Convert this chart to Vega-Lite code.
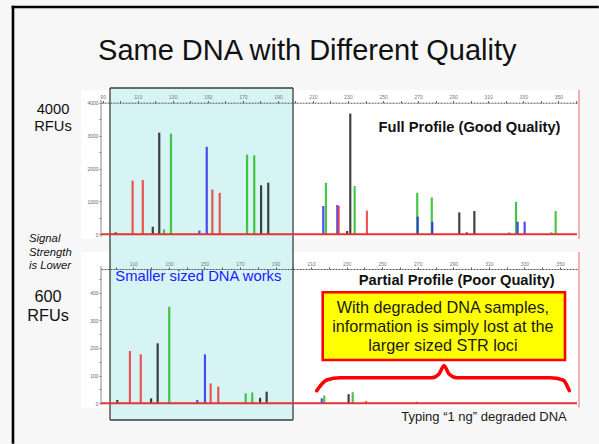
{
  "$schema": "https://vega.github.io/schema/vega-lite/v6.json",
  "background": "#f7f7f7",
  "padding": {"left": 11, "top": 5, "right": 0, "bottom": 0},
  "bounds": "flush",
  "spacing": 0,
  "config": {"view": {"stroke": null}, "font": "Liberation Sans", "text": {"font": "Liberation Sans"}, "axis": {"labelFont": "Liberation Sans", "labelOverlap": false}},
  "resolve": {"scale": {"x": "independent", "y": "independent"}},
  "vconcat": [
    {
      "width": 476,
      "height": 157,
      "layer": [
        {"data": {"values": [{}]}, "mark": {"type": "rule", "color": "#000000", "strokeWidth": 2.6, "strokeCap": "square"},
         "encoding": {"x": {"datum": 38.84, "type": "quantitative"}, "y": {"datum": 6908.8, "type": "quantitative"}, "y2": {"datum": -6328.3}}},
        {"data": {"values": [{}]}, "mark": {"type": "rule", "color": "#000000", "strokeWidth": 2.6, "strokeCap": "square"},
         "encoding": {"x": {"datum": 38.84, "type": "quantitative"}, "x2": {"datum": 372.37}, "y": {"datum": 6908.8, "type": "quantitative"}}},
        {"data": {"values": [{}]}, "mark": {"type": "rect", "fill": "#ffffff"},
         "encoding": {"x": {"datum": 77.65, "type": "quantitative"}, "x2": {"datum": 361.53}, "y": {"datum": 4386, "type": "quantitative"}, "y2": {"datum": -142.9}}},
        {"data": {"values": [{}]}, "mark": {"type": "rect", "fill": "#d7f4f4"},
         "encoding": {"x": {"datum": 94.19, "type": "quantitative"}, "x2": {"datum": 198.62}, "y": {"datum": 4447, "type": "quantitative"}, "y2": {"datum": -325}}},
        {"data": {"values": [{}]}, "mark": {"type": "rule", "color": "#3c3c3c", "strokeWidth": 1.3},
         "encoding": {"x": {"datum": 94.19, "type": "quantitative"}, "y": {"datum": 4447, "type": "quantitative"}, "y2": {"datum": -325}}},
        {"data": {"values": [{}]}, "mark": {"type": "rule", "color": "#3c3c3c", "strokeWidth": 1.3},
         "encoding": {"x": {"datum": 198.62, "type": "quantitative"}, "y": {"datum": 4447, "type": "quantitative"}, "y2": {"datum": -325}}},
        {"data": {"values": [{}]}, "mark": {"type": "rule", "color": "#3c3c3c", "strokeWidth": 1.3},
         "encoding": {"x": {"datum": 94.19, "type": "quantitative"}, "x2": {"datum": 198.62}, "y": {"datum": 4447, "type": "quantitative"}}},
        {"data": {"values": [{}]}, "mark": {"type": "rule", "color": "#8a8a8a", "strokeWidth": 1},
         "encoding": {"x": {"datum": 89.06, "type": "quantitative"}, "y": {"datum": 4080, "type": "quantitative"}, "y2": {"datum": -82}}},
        {"data": {"values": [{}]}, "mark": {"type": "rule", "color": "#f08080", "strokeWidth": 1.2},
         "encoding": {"x": {"datum": 361.81, "type": "quantitative"}, "y": {"datum": 4386, "type": "quantitative"}, "y2": {"datum": -142.9}}},
        {
          "data": {"values": [
            {"bp": 97.4, "rfu": 60, "dye": "black"},
            {"bp": 107.1, "rfu": 1630, "dye": "red"},
            {"bp": 112.9, "rfu": 1650, "dye": "red"},
            {"bp": 118.6, "rfu": 230, "dye": "black"},
            {"bp": 122.3, "rfu": 3090, "dye": "black"},
            {"bp": 125.0, "rfu": 150, "dye": "green"},
            {"bp": 129.0, "rfu": 3060, "dye": "green"},
            {"bp": 145.2, "rfu": 110, "dye": "blue"},
            {"bp": 149.4, "rfu": 2660, "dye": "blue"},
            {"bp": 152.6, "rfu": 1360, "dye": "red"},
            {"bp": 156.8, "rfu": 1260, "dye": "red"},
            {"bp": 172.4, "rfu": 2420, "dye": "green"},
            {"bp": 176.5, "rfu": 2400, "dye": "green"},
            {"bp": 180.4, "rfu": 1490, "dye": "black"},
            {"bp": 184.5, "rfu": 1570, "dye": "black"},
            {"bp": 215.9, "rfu": 860, "dye": "blue"},
            {"bp": 217.4, "rfu": 1565, "dye": "green"},
            {"bp": 223.9, "rfu": 890, "dye": "blue"},
            {"bp": 224.7, "rfu": 860, "dye": "red"},
            {"bp": 229.5, "rfu": 100, "dye": "black"},
            {"bp": 231.3, "rfu": 3670, "dye": "black"},
            {"bp": 233.8, "rfu": 1465, "dye": "green"},
            {"bp": 240.8, "rfu": 717, "dye": "red"},
            {"bp": 269.5, "rfu": 1263, "dye": "green"},
            {"bp": 269.8, "rfu": 535, "dye": "blue"},
            {"bp": 277.8, "rfu": 1120, "dye": "green"},
            {"bp": 278.1, "rfu": 380, "dye": "blue"},
            {"bp": 293.5, "rfu": 667, "dye": "black"},
            {"bp": 297.8, "rfu": 60, "dye": "black"},
            {"bp": 302.1, "rfu": 707, "dye": "black"},
            {"bp": 322.0, "rfu": 60, "dye": "green"},
            {"bp": 325.9, "rfu": 990, "dye": "green"},
            {"bp": 326.8, "rfu": 380, "dye": "blue"},
            {"bp": 330.8, "rfu": 384, "dye": "blue"},
            {"bp": 346.0, "rfu": 60, "dye": "green"},
            {"bp": 348.5, "rfu": 707, "dye": "green"}
          ]},
          "mark": {"type": "rule", "strokeWidth": 2.2, "opacity": 0.8},
          "encoding": {
            "x": {"field": "bp", "type": "quantitative",
                  "scale": {"domain": [89.06, 360.67], "nice": false, "zero": false},
                  "axis": {"orient": "top", "offset": -14.7, "tickCount": 1000,
                           "values": [90,100,110,120,130,140,150,160,170,180,190,200,210,220,230,240,250,260,270,280,290,300,310,320,330,340,350,360],
                           "labelExpr": "(datum.value - 90) % 20 == 0 ? datum.label : ''", "format": "d",
                           "labelFontSize": 5, "labelColor": "#777777", "labelPadding": 1, "tickSize": 2, "tickColor": "#555555",
                           "domainColor": "#555555", "domainDash": [2, 1], "grid": false, "title": null, "labelOverlap": false, "labelFlush": false, "zindex": 1}},
            "y": {"field": "rfu", "type": "quantitative",
                  "scale": {"domain": [-325, 4447], "nice": false, "zero": false},
                  "axis": {"orient": "left", "tickCount": 1000, "values": [0,500,1000,1500,2000,2500,3000,3500,4000],
                           "labelExpr": "datum.value % 1000 == 0 ? datum.label : ''", "format": "d",
                           "labelFontSize": 5, "labelColor": "#666666", "tickSize": 2, "tickColor": "#888888", "labelPadding": 1,
                           "domain": false, "grid": false, "title": null, "labelOverlap": false, "zindex": 1}},
            "y2": {"datum": 0},
            "color": {"field": "dye", "type": "nominal",
                      "scale": {"domain": ["red", "green", "blue", "black"], "range": ["#ee2a2a", "#18b818", "#2020ee", "#111111"]},
                      "legend": null}
          }
        },
        {"data": {"values": [{}]}, "mark": {"type": "rule", "color": "#e43333", "strokeWidth": 2},
         "encoding": {"x": {"datum": 89.06, "type": "quantitative"}, "x2": {"datum": 360.67}, "y": {"datum": 0, "type": "quantitative"}}},
        {"data": {"values": [{}]}, "mark": {"type": "text", "text": "Same DNA with Different Quality", "fontSize": 29, "align": "center", "baseline": "alphabetic", "color": "#111111"},
         "encoding": {"x": {"datum": 206.78, "type": "quantitative"}, "y": {"datum": 5297.9, "type": "quantitative"}}},
        {"data": {"values": [{}]}, "mark": {"type": "text", "text": ["4000", "RFUs"], "fontSize": 14.7, "lineHeight": 17, "align": "center", "baseline": "alphabetic", "color": "#111111"},
         "encoding": {"x": {"datum": 61.67, "type": "quantitative"}, "y": {"datum": 3656.5, "type": "quantitative"}}},
        {"data": {"values": [{}]}, "mark": {"type": "text", "text": "Full Profile (Good Quality)", "fontSize": 14.7, "fontWeight": "bold", "align": "center", "baseline": "alphabetic", "color": "#111111"},
         "encoding": {"x": {"datum": 299.33, "type": "quantitative"}, "y": {"datum": 3100.3, "type": "quantitative"}}}
      ]
    },
    {
      "width": 476,
      "height": 175,
      "layer": [
        {"data": {"values": [{}]}, "mark": {"type": "rect", "fill": "#ffffff"},
         "encoding": {"x": {"datum": 80.58, "type": "quantitative"}, "x2": {"datum": 360.39}, "y": {"datum": 547.2, "type": "quantitative"}, "y2": {"datum": -15.2}}},
        {"data": {"values": [{}]}, "mark": {"type": "rect", "fill": "#d7f4f4"},
         "encoding": {"x": {"datum": 96.9, "type": "quantitative"}, "x2": {"datum": 199.82}, "y": {"datum": 572.5, "type": "quantitative"}, "y2": {"datum": -60.4}}},
        {"data": {"values": [{}]}, "mark": {"type": "rule", "color": "#3c3c3c", "strokeWidth": 1.3},
         "encoding": {"x": {"datum": 96.9, "type": "quantitative"}, "y": {"datum": 572.5, "type": "quantitative"}, "y2": {"datum": -60.4}}},
        {"data": {"values": [{}]}, "mark": {"type": "rule", "color": "#3c3c3c", "strokeWidth": 1.3},
         "encoding": {"x": {"datum": 199.82, "type": "quantitative"}, "y": {"datum": 572.5, "type": "quantitative"}, "y2": {"datum": -60.4}}},
        {"data": {"values": [{}]}, "mark": {"type": "rule", "color": "#3c3c3c", "strokeWidth": 1.3},
         "encoding": {"x": {"datum": 96.9, "type": "quantitative"}, "x2": {"datum": 199.82}, "y": {"datum": -60.4, "type": "quantitative"}}},
        {"data": {"values": [{}]}, "mark": {"type": "rule", "color": "#8a8a8a", "strokeWidth": 1},
         "encoding": {"x": {"datum": 91.83, "type": "quantitative"}, "y": {"datum": 496.6, "type": "quantitative"}, "y2": {"datum": -6.1}}},
        {"data": {"values": [{}]}, "mark": {"type": "rule", "color": "#f08080", "strokeWidth": 1.2},
         "encoding": {"x": {"datum": 360.67, "type": "quantitative"}, "y": {"datum": 547.2, "type": "quantitative"}, "y2": {"datum": -15.2}}},
        {
          "data": {"values": [
            {"bp": 101.0, "rfu": 12, "dye": "black"},
            {"bp": 108.1, "rfu": 189, "dye": "red"},
            {"bp": 114.2, "rfu": 177, "dye": "red"},
            {"bp": 120.0, "rfu": 18, "dye": "black"},
            {"bp": 123.7, "rfu": 217, "dye": "black"},
            {"bp": 130.2, "rfu": 349, "dye": "green"},
            {"bp": 146.0, "rfu": 12, "dye": "blue"},
            {"bp": 150.3, "rfu": 177, "dye": "blue"},
            {"bp": 153.5, "rfu": 72, "dye": "red"},
            {"bp": 157.8, "rfu": 60, "dye": "red"},
            {"bp": 173.2, "rfu": 36, "dye": "green"},
            {"bp": 176.9, "rfu": 39, "dye": "green"},
            {"bp": 181.3, "rfu": 20, "dye": "black"},
            {"bp": 185.0, "rfu": 42, "dye": "black"},
            {"bp": 216.0, "rfu": 18, "dye": "blue"},
            {"bp": 217.4, "rfu": 28, "dye": "green"},
            {"bp": 231.1, "rfu": 33, "dye": "black"},
            {"bp": 233.4, "rfu": 40, "dye": "green"},
            {"bp": 240.9, "rfu": 8, "dye": "red"},
            {"bp": 269.4, "rfu": 6, "dye": "green"}
          ]},
          "mark": {"type": "rule", "strokeWidth": 2.2, "opacity": 0.8},
          "encoding": {
            "x": {"field": "bp", "type": "quantitative",
                  "scale": {"domain": [91.83, 359.55], "nice": false, "zero": false},
                  "axis": {"orient": "top", "offset": -24, "tickCount": 1000,
                           "values": [90,100,110,120,130,140,150,160,170,180,190,200,210,220,230,240,250,260,270,280,290,300,310,320,330,340,350],
                           "labelExpr": "(datum.value - 90) % 20 == 0 ? datum.label : ''", "format": "d",
                           "labelFontSize": 5, "labelColor": "#777777", "labelPadding": 1, "tickSize": 2, "tickColor": "#555555",
                           "domainColor": "#555555", "domainDash": [2, 1], "grid": false, "title": null, "labelOverlap": false, "labelFlush": false, "zindex": 1}},
            "y": {"field": "rfu", "type": "quantitative",
                  "scale": {"domain": [-60.4, 572.5], "nice": false, "zero": false},
                  "axis": {"orient": "left", "tickCount": 1000, "values": [0,50,100,150,200,250,300,350,400,450],
                           "labelExpr": "datum.value % 100 == 0 ? datum.label : ''", "format": "d",
                           "labelFontSize": 5, "labelColor": "#666666", "tickSize": 2, "tickColor": "#888888", "labelPadding": 1,
                           "domain": false, "grid": false, "title": null, "labelOverlap": false, "zindex": 1}},
            "y2": {"datum": 0},
            "color": {"field": "dye", "type": "nominal",
                      "scale": {"domain": ["red", "green", "blue", "black"], "range": ["#ee2a2a", "#18b818", "#2020ee", "#111111"]},
                      "legend": null}
          }
        },
        {"data": {"values": [{}]}, "mark": {"type": "rule", "color": "#e43333", "strokeWidth": 2},
         "encoding": {"x": {"datum": 91.83, "type": "quantitative"}, "x2": {"datum": 359.55}, "y": {"datum": 0, "type": "quantitative"}}},
        {"data": {"values": [{}]}, "mark": {"type": "text", "text": ["Signal", "Strength", "is Lower"], "fontSize": 11.3, "fontStyle": "italic", "lineHeight": 13.4, "align": "left", "baseline": "alphabetic", "color": "#111111"},
         "encoding": {"x": {"datum": 51.34, "type": "quantitative"}, "y": {"datum": 582.3, "type": "quantitative"}}},
        {"data": {"values": [{}]}, "mark": {"type": "text", "text": ["600", "RFUs"], "fontSize": 16.3, "lineHeight": 18.7, "align": "center", "baseline": "alphabetic", "color": "#111111"},
         "encoding": {"x": {"datum": 62.02, "type": "quantitative"}, "y": {"datum": 365.3, "type": "quantitative"}}},
        {"data": {"values": [{}]}, "mark": {"type": "text", "text": "Smaller sized DNA works", "fontSize": 14.8, "align": "center", "baseline": "alphabetic", "color": "#1a1aff"},
         "encoding": {"x": {"datum": 146.56, "type": "quantitative"}, "y": {"datum": 442.3, "type": "quantitative"}}},
        {"data": {"values": [{}]}, "mark": {"type": "text", "text": "Partial Profile (Poor Quality)", "fontSize": 14.7, "fontWeight": "bold", "align": "center", "baseline": "alphabetic", "color": "#111111"},
         "encoding": {"x": {"datum": 291.89, "type": "quantitative"}, "y": {"datum": 427.8, "type": "quantitative"}}},
        {"data": {"values": [{}]}, "mark": {"type": "rect", "fill": "#ffff00", "stroke": "#ff0000", "strokeWidth": 2.6},
         "encoding": {"x": {"datum": 216.52, "type": "quantitative"}, "x2": {"datum": 352.8}, "y": {"datum": 401.4, "type": "quantitative"}, "y2": {"datum": 156.6}}},
        {"data": {"values": [{}]}, "mark": {"type": "text", "text": ["With degraded DNA samples,", "information is simply lost at the", "larger sized STR loci"], "fontSize": 16.2, "lineHeight": 18.8, "align": "center", "baseline": "alphabetic", "color": "#1a1a1a"},
         "encoding": {"x": {"datum": 284.13, "type": "quantitative"}, "y": {"datum": 325.5, "type": "quantitative"}}},
        {"data": {"values": [
            {"bp": 213.15, "rfu": 45.6},
            {"bp": 218.77, "rfu": 84.3},
            {"bp": 226.25, "rfu": 92.6},
            {"bp": 278.0, "rfu": 92.6},
            {"bp": 281.94, "rfu": 106},
            {"bp": 284.76, "rfu": 136},
            {"bp": 287.57, "rfu": 106},
            {"bp": 291.89, "rfu": 92.6},
            {"bp": 344.36, "rfu": 92.6},
            {"bp": 351.67, "rfu": 84.3},
            {"bp": 355.22, "rfu": 45.6}
          ]},
         "mark": {"type": "line", "color": "#ff0000", "strokeWidth": 3.5, "interpolate": "monotone", "strokeCap": "round"},
         "encoding": {"x": {"field": "bp", "type": "quantitative"}, "y": {"field": "rfu", "type": "quantitative"}}},
        {"data": {"values": [{}]}, "mark": {"type": "text", "text": "Typing “1 ng” degraded DNA", "fontSize": 13, "align": "center", "baseline": "alphabetic", "color": "#1a1a1a"},
         "encoding": {"x": {"datum": 307.25, "type": "quantitative"}, "y": {"datum": -64.0, "type": "quantitative"}}}
      ]
    }
  ]
}
